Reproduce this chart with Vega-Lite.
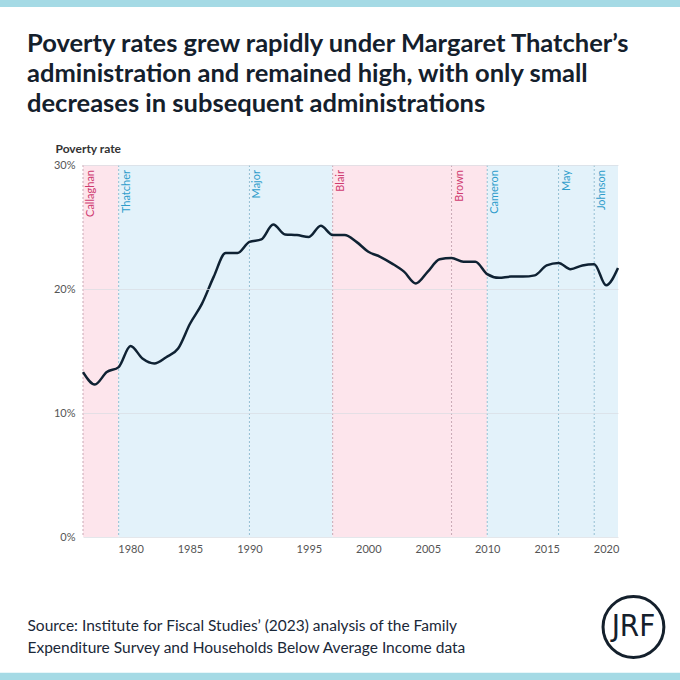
{
  "$schema": "https://vega.github.io/schema/vega-lite/v6.json",
  "width": 535,
  "height": 372,
  "autosize": {"type": "none"},
  "padding": {"left": 83, "top": 165, "right": 62, "bottom": 143},
  "background": "#ffffff",
  "config": {"view": {"stroke": null}, "font": "Lato"},
  "title": {
    "text": ["Poverty rates grew rapidly under Margaret Thatcher’s", "administration and remained high, with only small", "decreases in subsequent administrations"],
    "anchor": "start",
    "frame": "group",
    "dx": -56,
    "dy": 145,
    "fontSize": 25.5,
    "fontWeight": 700,
    "font": "Lato",
    "color": "#14202c",
    "lineHeight": 30,
    "baseline": "alphabetic",
    "offset": 5
  },
  "datasets": {
    "poverty": [
      {"year": 1976, "rate": 13.3}, {"year": 1977, "rate": 12.3}, {"year": 1978, "rate": 13.3},
      {"year": 1979, "rate": 13.7}, {"year": 1980, "rate": 15.4}, {"year": 1981, "rate": 14.4},
      {"year": 1982, "rate": 14.0}, {"year": 1983, "rate": 14.5}, {"year": 1984, "rate": 15.2},
      {"year": 1985, "rate": 17.2}, {"year": 1986, "rate": 18.8}, {"year": 1987, "rate": 21.0},
      {"year": 1988, "rate": 22.9}, {"year": 1989, "rate": 22.9}, {"year": 1990, "rate": 23.8},
      {"year": 1991, "rate": 24.0}, {"year": 1992, "rate": 25.2}, {"year": 1993, "rate": 24.4},
      {"year": 1994, "rate": 24.35}, {"year": 1995, "rate": 24.2}, {"year": 1996, "rate": 25.1},
      {"year": 1997, "rate": 24.35}, {"year": 1998, "rate": 24.35}, {"year": 1999, "rate": 23.8},
      {"year": 2000, "rate": 23.0}, {"year": 2001, "rate": 22.6}, {"year": 2002, "rate": 22.05},
      {"year": 2003, "rate": 21.4}, {"year": 2004, "rate": 20.45}, {"year": 2005, "rate": 21.4},
      {"year": 2006, "rate": 22.4}, {"year": 2007, "rate": 22.5}, {"year": 2008, "rate": 22.2},
      {"year": 2009, "rate": 22.2}, {"year": 2010, "rate": 21.2}, {"year": 2011, "rate": 20.9},
      {"year": 2012, "rate": 21.0}, {"year": 2013, "rate": 21.0}, {"year": 2014, "rate": 21.1},
      {"year": 2015, "rate": 21.9}, {"year": 2016, "rate": 22.1}, {"year": 2017, "rate": 21.6},
      {"year": 2018, "rate": 21.9}, {"year": 2019, "rate": 22.0}, {"year": 2020, "rate": 20.3},
      {"year": 2021, "rate": 21.7}
    ],
    "admins": [
      {"pm": "Callaghan", "start": 1976, "end": 1979, "party": "Labour"},
      {"pm": "Thatcher", "start": 1979, "end": 1990, "party": "Conservative"},
      {"pm": "Major", "start": 1990, "end": 1997, "party": "Conservative"},
      {"pm": "Blair", "start": 1997, "end": 2007, "party": "Labour"},
      {"pm": "Brown", "start": 2007, "end": 2010, "party": "Labour"},
      {"pm": "Cameron", "start": 2010, "end": 2016, "party": "Conservative"},
      {"pm": "May", "start": 2016, "end": 2019, "party": "Conservative"},
      {"pm": "Johnson", "start": 2019, "end": 2021, "party": "Conservative"}
    ],
    "brand": [{"logo": "JRF"}]
  },
  "layer": [
    {
      "data": {"name": "admins"},
      "mark": {"type": "rect"},
      "encoding": {
        "x": {"field": "start", "type": "quantitative"},
        "x2": {"field": "end"},
        "fill": {"field": "party", "type": "nominal", "scale": {"domain": ["Labour", "Conservative"], "range": ["#fde5ec", "#e3f2fa"]}, "legend": null}
      }
    },
    {
      "data": {"name": "admins"},
      "mark": {"type": "rule", "strokeDash": [2, 2], "strokeWidth": 1},
      "encoding": {
        "x": {"field": "start", "type": "quantitative"},
        "stroke": {"field": "party", "type": "nominal", "scale": {"domain": ["Labour", "Conservative"], "range": ["#c9a8b4", "#94bfd3"]}, "legend": null}
      }
    },
    {
      "data": {"name": "admins"},
      "mark": {"type": "text", "angle": 270, "align": "right", "baseline": "top", "dx": -5, "dy": 2, "fontSize": 11, "font": "Lato"},
      "encoding": {
        "x": {"field": "start", "type": "quantitative"},
        "y": {"datum": 30},
        "text": {"field": "pm"},
        "color": {"field": "party", "type": "nominal", "scale": {"domain": ["Labour", "Conservative"], "range": ["#cf3a70", "#2f9dcb"]}, "legend": null}
      }
    },
    {
      "data": {"name": "poverty"},
      "mark": {"type": "line", "interpolate": "monotone", "color": "#0f2233", "strokeWidth": 2.5},
      "encoding": {
        "x": {
          "field": "year", "type": "quantitative",
          "scale": {"domain": [1976, 2021], "nice": false, "zero": false},
          "axis": {
            "values": [1980, 1985, 1990, 1995, 2000, 2005, 2010, 2015, 2020],
            "format": "d", "ticks": false, "domain": false, "grid": false,
            "labelFontSize": 11, "labelColor": "#555555", "labelPadding": 6, "labelFont": "Lato",
            "title": ["Source: Institute for Fiscal Studies’ (2023) analysis of the Family", "Expenditure Survey and Households Below Average Income data"],
            "titleAnchor": "start", "titleAlign": "left", "titleBaseline": "alphabetic",
            "titleX": -56, "titleY": 93, "titleFontSize": 15.5, "titleFontWeight": "normal",
            "titleFont": "Lato", "titleColor": "#1a2838", "titleLineHeight": 22
          }
        },
        "y": {
          "field": "rate", "type": "quantitative",
          "scale": {"domain": [0, 30], "nice": false},
          "axis": {
            "values": [0, 10, 20, 30], "labelExpr": "datum.value + '%'",
            "ticks": false, "domain": false, "grid": true, "gridColor": "#d9dde3", "gridOpacity": 0.7,
            "zindex": 1, "labelFontSize": 11, "labelColor": "#555555", "labelPadding": 8, "labelFont": "Lato",
            "title": "Poverty rate", "titleAngle": 0, "titleAlign": "left", "titleBaseline": "middle",
            "titleX": -28, "titleY": -17, "titleFontSize": 12, "titleFontWeight": "bold", "titleColor": "#333333", "titleFont": "Lato"
          }
        }
      }
    },
    {
      "data": {"name": "brand"},
      "mark": {"type": "rect", "fill": "#a5dae5", "clip": false},
      "encoding": {
        "x": {"datum": 1968},
        "x2": {"datum": 2028},
        "y": {"datum": 43.5},
        "y2": {"datum": 42.75}
      }
    },
    {
      "data": {"name": "brand"},
      "mark": {"type": "rect", "fill": "#a5dae5", "clip": false},
      "encoding": {
        "x": {"datum": 1968},
        "x2": {"datum": 2028},
        "y": {"datum": -10.95},
        "y2": {"datum": -12}
      }
    },
    {
      "data": {"name": "brand"},
      "mark": {"type": "point", "shape": "circle", "size": 3700, "filled": false, "stroke": "#14202c", "strokeWidth": 3, "opacity": 1},
      "encoding": {
        "x": {"datum": 2022.3},
        "y": {"datum": -7.26}
      }
    },
    {
      "data": {"name": "brand"},
      "mark": {"type": "text", "fontSize": 31, "font": "DejaVu Sans Condensed", "color": "#14202c", "align": "center", "baseline": "middle"},
      "encoding": {
        "x": {"datum": 2022.3},
        "y": {"datum": -7.26},
        "text": {"field": "logo"}
      }
    }
  ]
}
